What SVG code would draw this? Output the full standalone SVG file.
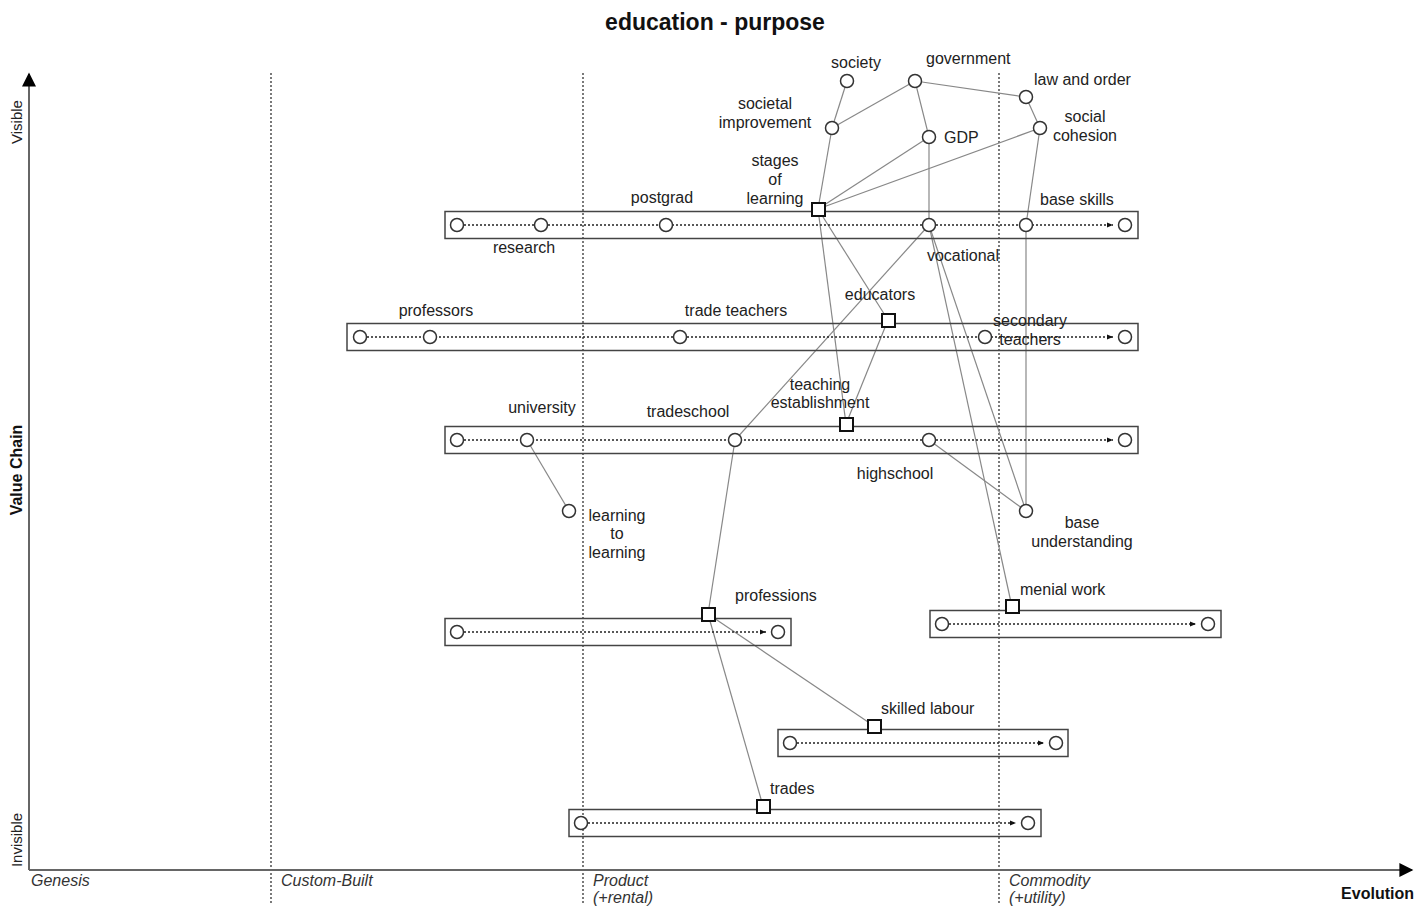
<svg xmlns="http://www.w3.org/2000/svg" width="1427" height="906" viewBox="0 0 1427 906">
<style>
text{font-family:"Liberation Sans",Arial,sans-serif;font-size:16px;fill:#222}
.t{font-size:23px;font-weight:bold;fill:#111}
.ax{font-weight:bold;fill:#111}
.st{font-style:italic;fill:#333}
.c{text-anchor:middle}
.band{fill:none;stroke:#444;stroke-width:1.5}
.evo{stroke:#222;stroke-width:1.4;stroke-dasharray:2 2;fill:none}
.n{fill:#fff;stroke:#333;stroke-width:1.5}
.sq{fill:#fff;stroke:#111;stroke-width:2}
.lk{stroke:#888;stroke-width:1.2;fill:none}
.stage{stroke:#333;stroke-width:1.3;stroke-dasharray:2 2}
.axis{stroke:#666;stroke-width:2}
</style>
<defs>
<marker id="ea" viewBox="0 0 10 10" refX="10" refY="5" markerWidth="6" markerHeight="6" orient="auto" markerUnits="userSpaceOnUse"><path d="M0,1 L10,5 L0,9 z" fill="#111"/></marker>
<marker id="aa" viewBox="0 0 10 10" refX="9" refY="5" markerWidth="16" markerHeight="14" orient="auto" markerUnits="userSpaceOnUse"><path d="M0,0 L10,5 L0,10 z" fill="#000"/></marker>
</defs>
<rect width="1427" height="906" fill="#fff"/>
<text class="t c" x="715" y="30">education - purpose</text>
<g id="stages">
<line class="stage" x1="271" y1="73" x2="271" y2="903"/>
<line class="stage" x1="583" y1="73" x2="583" y2="903"/>
<line class="stage" x1="999" y1="73" x2="999" y2="903"/>
</g>
<g id="axes">
<line class="axis" x1="29" y1="870" x2="29" y2="74" marker-end="url(#aa)"/>
<line class="axis" x1="29" y1="870" x2="1412" y2="870" marker-end="url(#aa)"/>
<text class="ax" transform="translate(22,470) rotate(-90)" text-anchor="middle">Value Chain</text>
<text transform="translate(22,122) rotate(-90)" text-anchor="middle" style="font-size:15px">Visible</text>
<text transform="translate(22,840) rotate(-90)" text-anchor="middle" style="font-size:15px">Invisible</text>
<text class="ax" x="1414" y="899" text-anchor="end">Evolution</text>
<text class="st" x="31" y="886">Genesis</text>
<text class="st" x="281" y="886">Custom-Built</text>
<text class="st" x="593" y="886">Product</text>
<text class="st" x="593" y="903">(+rental)</text>
<text class="st" x="1009" y="886">Commodity</text>
<text class="st" x="1009" y="903">(+utility)</text>
</g>
<g id="connectors">
<line class="lk" x1="847" y1="81" x2="832" y2="128"/>
<line class="lk" x1="832" y1="128" x2="818" y2="209"/>
<line class="lk" x1="915" y1="81" x2="832" y2="128"/>
<line class="lk" x1="915" y1="81" x2="929" y2="137"/>
<line class="lk" x1="915" y1="81" x2="1026" y2="97"/>
<line class="lk" x1="1026" y1="97" x2="1040" y2="128"/>
<line class="lk" x1="1040" y1="128" x2="1026" y2="225"/>
<line class="lk" x1="929" y1="137" x2="818" y2="209"/>
<line class="lk" x1="1040" y1="128" x2="818" y2="209"/>
<line class="lk" x1="929" y1="137" x2="929" y2="225"/>
<line class="lk" x1="1026" y1="225" x2="1026" y2="511"/>
<line class="lk" x1="818" y1="209" x2="846" y2="424"/>
<line class="lk" x1="818" y1="209" x2="888" y2="320"/>
<line class="lk" x1="888" y1="320" x2="846" y2="424"/>
<line class="lk" x1="929" y1="225" x2="735" y2="440"/>
<line class="lk" x1="929" y1="225" x2="1026" y2="511"/>
<line class="lk" x1="929" y1="225" x2="1012" y2="607"/>
<line class="lk" x1="929" y1="440" x2="1026" y2="511"/>
<line class="lk" x1="527" y1="440" x2="569" y2="511"/>
<line class="lk" x1="735" y1="440" x2="708" y2="614"/>
<line class="lk" x1="708" y1="614" x2="874" y2="726"/>
<line class="lk" x1="708" y1="614" x2="763" y2="806"/>
</g>
<g id="row-research">
<rect class="band" x="445" y="211.5" width="693" height="27"/>
<line class="evo" x1="464" y1="225" x2="1113" y2="225" marker-end="url(#ea)"/>
<circle class="n" cx="457" cy="225" r="6.5"/>
<circle class="n" cx="1125" cy="225" r="6.5"/>
</g>
<g id="row-teachers">
<rect class="band" x="347" y="323.5" width="791" height="27"/>
<line class="evo" x1="367" y1="337" x2="1113" y2="337" marker-end="url(#ea)"/>
<circle class="n" cx="360" cy="337" r="6.5"/>
<circle class="n" cx="1125" cy="337" r="6.5"/>
</g>
<g id="row-schools">
<rect class="band" x="445" y="426.5" width="693" height="27"/>
<line class="evo" x1="464" y1="440" x2="1113" y2="440" marker-end="url(#ea)"/>
<circle class="n" cx="457" cy="440" r="6.5"/>
<circle class="n" cx="1125" cy="440" r="6.5"/>
</g>
<g id="row-professions">
<rect class="band" x="445" y="618.5" width="346" height="27"/>
<line class="evo" x1="464" y1="632" x2="766" y2="632" marker-end="url(#ea)"/>
<circle class="n" cx="457" cy="632" r="6.5"/>
<circle class="n" cx="778" cy="632" r="6.5"/>
</g>
<g id="row-menial">
<rect class="band" x="930" y="610.5" width="291" height="27"/>
<line class="evo" x1="949" y1="624" x2="1196" y2="624" marker-end="url(#ea)"/>
<circle class="n" cx="942" cy="624" r="6.5"/>
<circle class="n" cx="1208" cy="624" r="6.5"/>
</g>
<g id="row-skilled">
<rect class="band" x="778" y="729.5" width="290" height="27"/>
<line class="evo" x1="797" y1="743" x2="1044" y2="743" marker-end="url(#ea)"/>
<circle class="n" cx="790" cy="743" r="6.5"/>
<circle class="n" cx="1056" cy="743" r="6.5"/>
</g>
<g id="row-trades">
<rect class="band" x="569" y="809.5" width="472" height="27"/>
<line class="evo" x1="588" y1="823" x2="1016" y2="823" marker-end="url(#ea)"/>
<circle class="n" cx="581" cy="823" r="6.5"/>
<circle class="n" cx="1028" cy="823" r="6.5"/>
</g>
<g id="society"><circle class="n" cx="847" cy="81" r="6.5"/><text class="c" x="856" y="68">society</text></g>
<g id="government"><circle class="n" cx="915" cy="81" r="6.5"/><text x="926" y="64">government</text></g>
<g id="law-and-order"><circle class="n" cx="1026" cy="97" r="6.5"/><text x="1034" y="85">law and order</text></g>
<g id="societal-improvement"><circle class="n" cx="832" cy="128" r="6.5"/><text class="c" x="765" y="109">societal</text><text class="c" x="765" y="128">improvement</text></g>
<g id="gdp"><circle class="n" cx="929" cy="137" r="6.5"/><text x="944" y="143">GDP</text></g>
<g id="social-cohesion"><circle class="n" cx="1040" cy="128" r="6.5"/><text class="c" x="1085" y="122">social</text><text class="c" x="1085" y="141">cohesion</text></g>
<g id="stages-of-learning"><rect class="sq" x="812" y="203" width="13" height="13"/><text class="c" x="775" y="166">stages</text><text class="c" x="775" y="185">of</text><text class="c" x="775" y="204">learning</text></g>
<g id="research"><circle class="n" cx="541" cy="225" r="6.5"/><text class="c" x="524" y="253">research</text></g>
<g id="postgrad"><circle class="n" cx="666" cy="225" r="6.5"/><text class="c" x="662" y="203">postgrad</text></g>
<g id="vocational"><circle class="n" cx="929" cy="225" r="6.5"/><text class="c" x="963" y="261">vocational</text></g>
<g id="base-skills"><circle class="n" cx="1026" cy="225" r="6.5"/><text x="1040" y="205">base skills</text></g>
<g id="professors"><circle class="n" cx="430" cy="337" r="6.5"/><text class="c" x="436" y="316">professors</text></g>
<g id="trade-teachers"><circle class="n" cx="680" cy="337" r="6.5"/><text class="c" x="736" y="316">trade teachers</text></g>
<g id="educators"><rect class="sq" x="882" y="314" width="13" height="13"/><text class="c" x="880" y="300">educators</text></g>
<g id="secondary-teachers"><circle class="n" cx="985" cy="337" r="6.5"/><text class="c" x="1030" y="326">secondary</text><text class="c" x="1030" y="345">teachers</text></g>
<g id="university"><circle class="n" cx="527" cy="440" r="6.5"/><text class="c" x="542" y="413">university</text></g>
<g id="tradeschool"><circle class="n" cx="735" cy="440" r="6.5"/><text class="c" x="688" y="417">tradeschool</text></g>
<g id="teaching-establishment"><rect class="sq" x="840" y="418" width="13" height="13"/><text class="c" x="820" y="390">teaching</text><text class="c" x="820" y="408">establishment</text></g>
<g id="highschool"><circle class="n" cx="929" cy="440" r="6.5"/><text class="c" x="895" y="479">highschool</text></g>
<g id="learning-to-learning"><circle class="n" cx="569" cy="511" r="6.5"/><text class="c" x="617" y="521">learning</text><text class="c" x="617" y="539">to</text><text class="c" x="617" y="558">learning</text></g>
<g id="base-understanding"><circle class="n" cx="1026" cy="511" r="6.5"/><text class="c" x="1082" y="528">base</text><text class="c" x="1082" y="547">understanding</text></g>
<g id="professions"><rect class="sq" x="702" y="608" width="13" height="13"/><text x="735" y="601">professions</text></g>
<g id="menial-work"><rect class="sq" x="1006" y="600" width="13" height="13"/><text x="1020" y="595">menial work</text></g>
<g id="skilled-labour"><rect class="sq" x="868" y="720" width="13" height="13"/><text x="881" y="714">skilled labour</text></g>
<g id="trades"><rect class="sq" x="757" y="800" width="13" height="13"/><text x="770" y="794">trades</text></g>
</svg>
